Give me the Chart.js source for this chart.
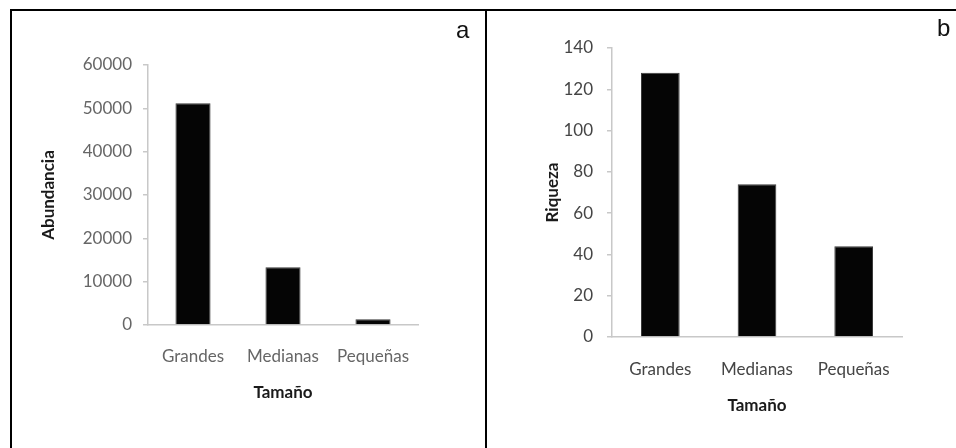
<!DOCTYPE html>
<html>
<head>
<meta charset="utf-8">
<script src="https://cdn.jsdelivr.net/npm/chart.js@4.4.1/dist/chart.umd.min.js"></script>
<style>
  html, body { margin: 0; padding: 0; background: #fff; }
  body { width: 956px; height: 448px; position: relative; overflow: hidden; }
  .frame { position: absolute; left: 10px; top: 9px; width: 960px; height: 460px;
           border-left: 2px solid #000; border-top: 2px solid #000; }
  .divider { position: absolute; left: 485px; top: 9px; width: 2px; height: 460px; background: #000; }
  .box { position: absolute; top: 11px; height: 437px; }
  #boxA { left: 12px; width: 473px; }
  #boxB { left: 487px; width: 469px; }
  .tag { position: absolute; font-family: "Liberation Sans", Arial, sans-serif; font-size: 24px; color: #111; }
</style>
</head>
<body>
<div class="frame"></div>
<div class="divider"></div>
<div class="box" id="boxA"><canvas id="abundChart"></canvas></div>
<div class="box" id="boxB"><canvas id="riqChart"></canvas></div>
<div class="tag" style="left:456px; top:16px;">a</div>
<div class="tag" style="left:937px; top:14px;">b</div>
<script>
const categories = ['Grandes', 'Medianas', 'Pequeñas'];
const abundancia = [51200, 13300, 1300];
const riqueza = [128, 74, 44];
const abundTicks = { max: 60000, step: 10000 };
const riqTicks = { max: 140, step: 20 };

const FONT = 'Lato, "Open Sans", sans-serif';

function makeChart(id, values, yTitle, ticks, lay) {
    const ctx = document.getElementById(id).getContext('2d');
    return new Chart(ctx, {
        type: 'bar',
        data: {
            labels: categories,
            datasets: [{
                data: values,
                backgroundColor: '#050505',
                borderColor: '#3a3a3a',
                borderWidth: 1,
                barPercentage: lay.barPct,
                categoryPercentage: 1
            }]
        },
        options: {
            responsive: true,
            maintainAspectRatio: false,
            animation: false,
            layout: { padding: lay.padding },
            plugins: { legend: { display: false }, tooltip: { enabled: false } },
            scales: {
                x: {
                    afterFit: s => { s.height = lay.xHeight; },
                    grid: { display: false },
                    border: { display: true, color: '#c8c8c8', width: 1.5 },
                    ticks: { color: lay.tickColor, padding: lay.xPad, font: { family: FONT, size: 17 } },
                    title: { display: true, text: 'Tamaño', color: '#1a1a1a', padding: 0,
                             font: { family: FONT, size: 17, weight: 'bold' } }
                },
                y: {
                    min: 0,
                    max: ticks.max,
                    afterFit: s => { s.width = lay.yWidth; },
                    grid: { drawOnChartArea: false, drawTicks: true, tickLength: 5, color: '#c8c8c8', lineWidth: 1.5 },
                    border: { display: true, color: '#c8c8c8', width: 1.5 },
                    ticks: { stepSize: ticks.step, color: lay.tickColor, padding: lay.yPad,
                             font: { family: FONT, size: 17 }, callback: v => String(v) },
                    title: { display: true, text: yTitle, color: '#1a1a1a', padding: 0,
                             font: { family: FONT, size: 17, weight: 'bold' } }
                }
            }
        }
    });
}

makeChart('abundChart', abundancia, 'Abundancia', abundTicks, {
    padding: { left: 26, right: 67, top: 54, bottom: 45 },
    yWidth: 110, xHeight: 78, xPad: 13, yPad: 11, barPct: 0.39, tickColor: '#666666'
});

makeChart('riqChart', riqueza, 'Riqueza', riqTicks, {
    padding: { left: 55, right: 54, top: 37, bottom: 32 },
    yWidth: 70, xHeight: 79, xPad: 14, yPad: 14, barPct: 0.40, tickColor: '#454545'
});
</script>
</body>
</html>
